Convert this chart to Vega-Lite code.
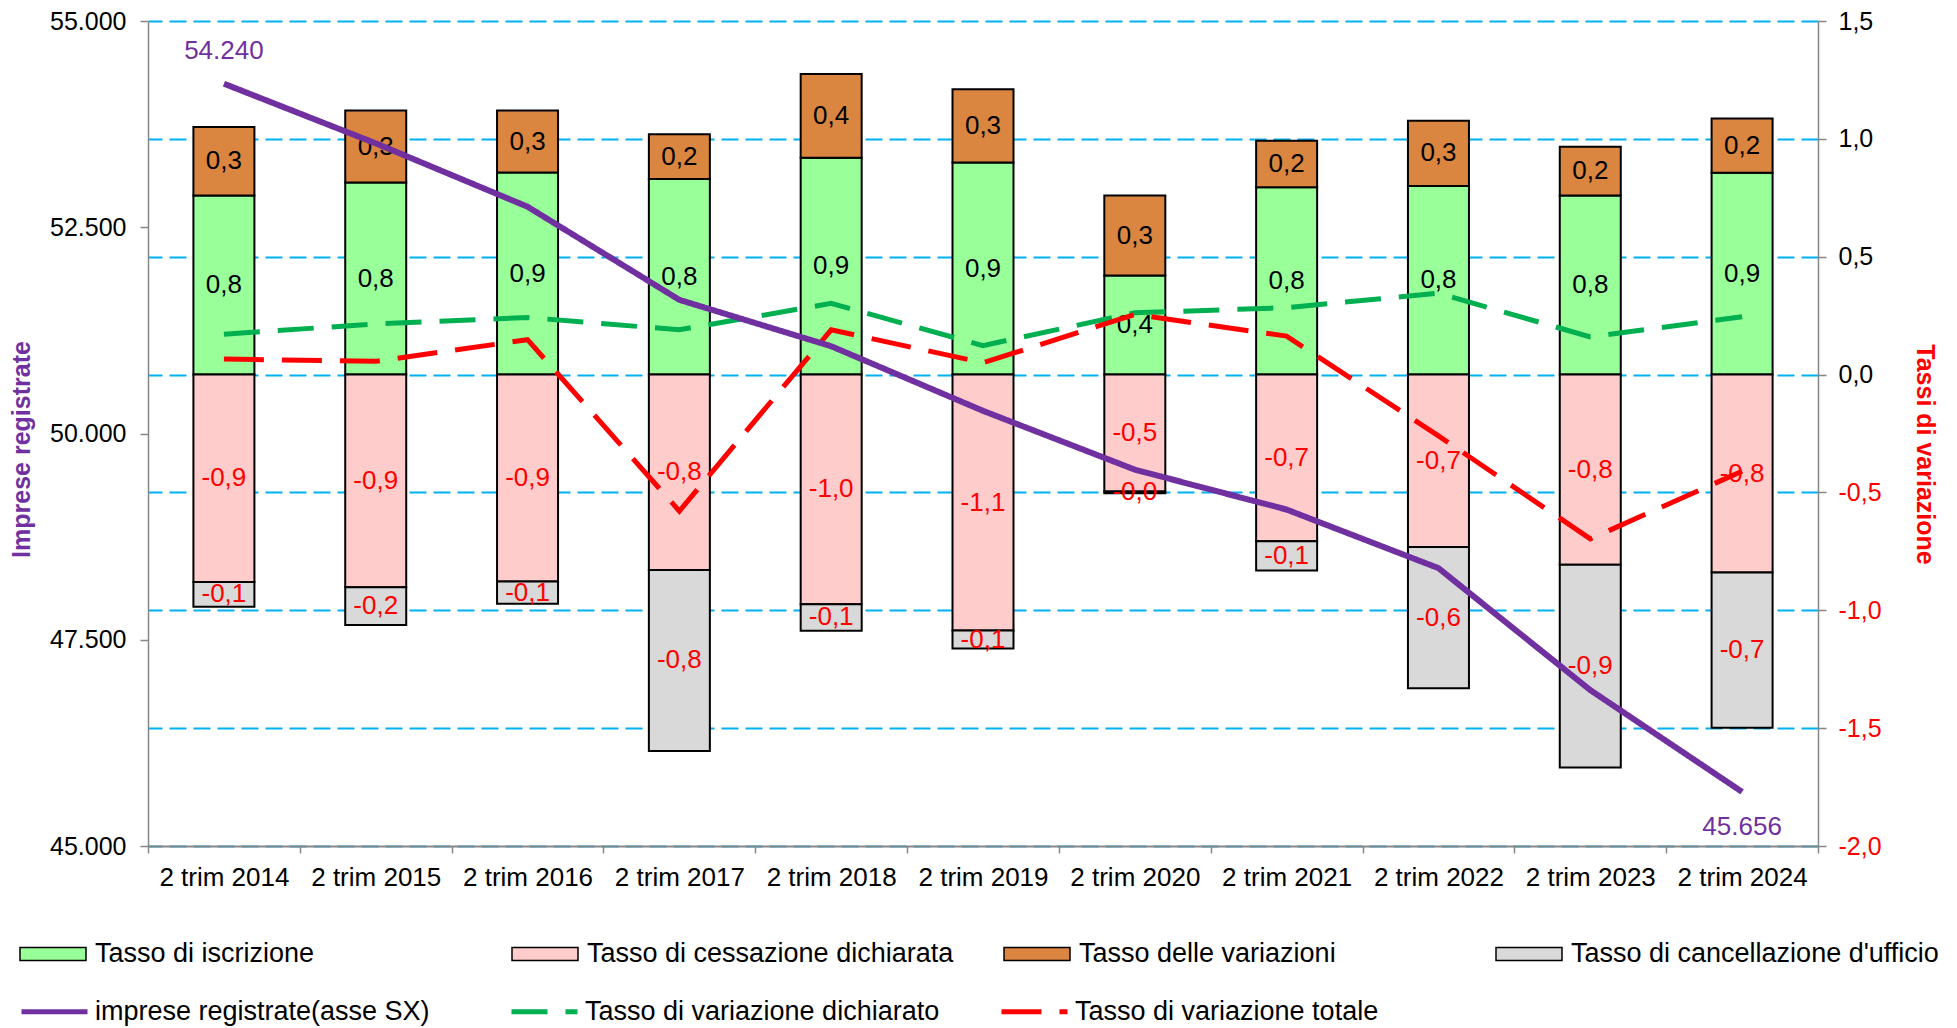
{
  "$schema": "https://vega.github.io/schema/vega-lite/v6.json",
  "autosize": {"type": "none"},
  "padding": {"left": 148, "top": 21, "right": 139, "bottom": 182},
  "width": 1670,
  "height": 825,
  "config": {
    "view": {"stroke": null},
    "font": "Liberation Sans",
    "locale": {"number": {"decimal": ",", "thousands": ".", "grouping": [3], "currency": ["€", ""], "minus": "-"}}
  },
  "datasets": {
    "barre": [
      {"anno": "2 trim 2014", "serie": "Tasso di iscrizione", "valore": 0.76, "etichetta": "0,8"},
      {"anno": "2 trim 2014", "serie": "Tasso delle variazioni", "valore": 0.29, "etichetta": "0,3"},
      {"anno": "2 trim 2014", "serie": "Tasso di cessazione dichiarata", "valore": -0.88, "etichetta": "-0,9"},
      {"anno": "2 trim 2014", "serie": "Tasso di cancellazione d'ufficio", "valore": -0.105, "etichetta": "-0,1"},
      {"anno": "2 trim 2015", "serie": "Tasso di iscrizione", "valore": 0.815, "etichetta": "0,8"},
      {"anno": "2 trim 2015", "serie": "Tasso delle variazioni", "valore": 0.305, "etichetta": "0,3"},
      {"anno": "2 trim 2015", "serie": "Tasso di cessazione dichiarata", "valore": -0.902, "etichetta": "-0,9"},
      {"anno": "2 trim 2015", "serie": "Tasso di cancellazione d'ufficio", "valore": -0.16, "etichetta": "-0,2"},
      {"anno": "2 trim 2016", "serie": "Tasso di iscrizione", "valore": 0.857, "etichetta": "0,9"},
      {"anno": "2 trim 2016", "serie": "Tasso delle variazioni", "valore": 0.263, "etichetta": "0,3"},
      {"anno": "2 trim 2016", "serie": "Tasso di cessazione dichiarata", "valore": -0.878, "etichetta": "-0,9"},
      {"anno": "2 trim 2016", "serie": "Tasso di cancellazione d'ufficio", "valore": -0.094, "etichetta": "-0,1"},
      {"anno": "2 trim 2017", "serie": "Tasso di iscrizione", "valore": 0.83, "etichetta": "0,8"},
      {"anno": "2 trim 2017", "serie": "Tasso delle variazioni", "valore": 0.19, "etichetta": "0,2"},
      {"anno": "2 trim 2017", "serie": "Tasso di cessazione dichiarata", "valore": -0.829, "etichetta": "-0,8"},
      {"anno": "2 trim 2017", "serie": "Tasso di cancellazione d'ufficio", "valore": -0.768, "etichetta": "-0,8"},
      {"anno": "2 trim 2018", "serie": "Tasso di iscrizione", "valore": 0.92, "etichetta": "0,9"},
      {"anno": "2 trim 2018", "serie": "Tasso delle variazioni", "valore": 0.355, "etichetta": "0,4"},
      {"anno": "2 trim 2018", "serie": "Tasso di cessazione dichiarata", "valore": -0.974, "etichetta": "-1,0"},
      {"anno": "2 trim 2018", "serie": "Tasso di cancellazione d'ufficio", "valore": -0.113, "etichetta": "-0,1"},
      {"anno": "2 trim 2019", "serie": "Tasso di iscrizione", "valore": 0.9, "etichetta": "0,9"},
      {"anno": "2 trim 2019", "serie": "Tasso delle variazioni", "valore": 0.31, "etichetta": "0,3"},
      {"anno": "2 trim 2019", "serie": "Tasso di cessazione dichiarata", "valore": -1.086, "etichetta": "-1,1"},
      {"anno": "2 trim 2019", "serie": "Tasso di cancellazione d'ufficio", "valore": -0.076, "etichetta": "-0,1"},
      {"anno": "2 trim 2020", "serie": "Tasso di iscrizione", "valore": 0.42, "etichetta": "0,4"},
      {"anno": "2 trim 2020", "serie": "Tasso delle variazioni", "valore": 0.34, "etichetta": "0,3"},
      {"anno": "2 trim 2020", "serie": "Tasso di cessazione dichiarata", "valore": -0.496, "etichetta": "-0,5"},
      {"anno": "2 trim 2020", "serie": "Tasso di cancellazione d'ufficio", "valore": -0.007, "etichetta": "-0,0"},
      {"anno": "2 trim 2021", "serie": "Tasso di iscrizione", "valore": 0.795, "etichetta": "0,8"},
      {"anno": "2 trim 2021", "serie": "Tasso delle variazioni", "valore": 0.197, "etichetta": "0,2"},
      {"anno": "2 trim 2021", "serie": "Tasso di cessazione dichiarata", "valore": -0.707, "etichetta": "-0,7"},
      {"anno": "2 trim 2021", "serie": "Tasso di cancellazione d'ufficio", "valore": -0.124, "etichetta": "-0,1"},
      {"anno": "2 trim 2022", "serie": "Tasso di iscrizione", "valore": 0.8, "etichetta": "0,8"},
      {"anno": "2 trim 2022", "serie": "Tasso delle variazioni", "valore": 0.277, "etichetta": "0,3"},
      {"anno": "2 trim 2022", "serie": "Tasso di cessazione dichiarata", "valore": -0.731, "etichetta": "-0,7"},
      {"anno": "2 trim 2022", "serie": "Tasso di cancellazione d'ufficio", "valore": -0.6, "etichetta": "-0,6"},
      {"anno": "2 trim 2023", "serie": "Tasso di iscrizione", "valore": 0.76, "etichetta": "0,8"},
      {"anno": "2 trim 2023", "serie": "Tasso delle variazioni", "valore": 0.207, "etichetta": "0,2"},
      {"anno": "2 trim 2023", "serie": "Tasso di cessazione dichiarata", "valore": -0.807, "etichetta": "-0,8"},
      {"anno": "2 trim 2023", "serie": "Tasso di cancellazione d'ufficio", "valore": -0.86, "etichetta": "-0,9"},
      {"anno": "2 trim 2024", "serie": "Tasso di iscrizione", "valore": 0.856, "etichetta": "0,9"},
      {"anno": "2 trim 2024", "serie": "Tasso delle variazioni", "valore": 0.23, "etichetta": "0,2"},
      {"anno": "2 trim 2024", "serie": "Tasso di cessazione dichiarata", "valore": -0.84, "etichetta": "-0,8"},
      {"anno": "2 trim 2024", "serie": "Tasso di cancellazione d'ufficio", "valore": -0.658, "etichetta": "-0,7"}
    ],
    "linee": [
      {"anno": "2 trim 2014", "serie": "imprese registrate(asse SX)", "valore": 54240},
      {"anno": "2 trim 2015", "serie": "imprese registrate(asse SX)", "valore": 53517},
      {"anno": "2 trim 2016", "serie": "imprese registrate(asse SX)", "valore": 52749},
      {"anno": "2 trim 2017", "serie": "imprese registrate(asse SX)", "valore": 51620},
      {"anno": "2 trim 2018", "serie": "imprese registrate(asse SX)", "valore": 51058},
      {"anno": "2 trim 2019", "serie": "imprese registrate(asse SX)", "valore": 50275},
      {"anno": "2 trim 2020", "serie": "imprese registrate(asse SX)", "valore": 49562},
      {"anno": "2 trim 2021", "serie": "imprese registrate(asse SX)", "valore": 49078},
      {"anno": "2 trim 2022", "serie": "imprese registrate(asse SX)", "valore": 48368},
      {"anno": "2 trim 2023", "serie": "imprese registrate(asse SX)", "valore": 46890},
      {"anno": "2 trim 2024", "serie": "imprese registrate(asse SX)", "valore": 45656},
      {"anno": "2 trim 2014", "serie": "Tasso di variazione dichiarato", "valore": 0.171},
      {"anno": "2 trim 2015", "serie": "Tasso di variazione dichiarato", "valore": 0.215},
      {"anno": "2 trim 2016", "serie": "Tasso di variazione dichiarato", "valore": 0.242},
      {"anno": "2 trim 2017", "serie": "Tasso di variazione dichiarato", "valore": 0.19},
      {"anno": "2 trim 2018", "serie": "Tasso di variazione dichiarato", "valore": 0.302},
      {"anno": "2 trim 2019", "serie": "Tasso di variazione dichiarato", "valore": 0.123},
      {"anno": "2 trim 2020", "serie": "Tasso di variazione dichiarato", "valore": 0.262},
      {"anno": "2 trim 2021", "serie": "Tasso di variazione dichiarato", "valore": 0.284},
      {"anno": "2 trim 2022", "serie": "Tasso di variazione dichiarato", "valore": 0.345},
      {"anno": "2 trim 2023", "serie": "Tasso di variazione dichiarato", "valore": 0.16},
      {"anno": "2 trim 2024", "serie": "Tasso di variazione dichiarato", "valore": 0.245},
      {"anno": "2 trim 2014", "serie": "Tasso di variazione totale", "valore": 0.066},
      {"anno": "2 trim 2015", "serie": "Tasso di variazione totale", "valore": 0.056},
      {"anno": "2 trim 2016", "serie": "Tasso di variazione totale", "valore": 0.148},
      {"anno": "2 trim 2017", "serie": "Tasso di variazione totale", "valore": -0.579},
      {"anno": "2 trim 2018", "serie": "Tasso di variazione totale", "valore": 0.19},
      {"anno": "2 trim 2019", "serie": "Tasso di variazione totale", "valore": 0.05},
      {"anno": "2 trim 2020", "serie": "Tasso di variazione totale", "valore": 0.255},
      {"anno": "2 trim 2021", "serie": "Tasso di variazione totale", "valore": 0.163},
      {"anno": "2 trim 2022", "serie": "Tasso di variazione totale", "valore": -0.26},
      {"anno": "2 trim 2023", "serie": "Tasso di variazione totale", "valore": -0.697},
      {"anno": "2 trim 2024", "serie": "Tasso di variazione totale", "valore": -0.41}
    ]
  },
  "layer": [
    {
      "layer": [
        {
          "data": {"name": "barre"},
          "mark": {"type": "bar", "width": 61, "stroke": "black", "strokeWidth": 2},
          "encoding": {
            "x": {
              "field": "anno", "type": "nominal", "sort": null,
              "scale": {"paddingInner": 0, "paddingOuter": 0},
              "axis": {
                "title": null, "labelFontSize": 26, "labelColor": "black", "labelAngle": 0,
                "labelPadding": 11, "tickSize": 7, "tickColor": "#868686", "tickWidth": 1.5,
                "tickBand": "extent", "domainColor": "#868686", "domainWidth": 2,
                "grid": false, "zindex": 1, "labelLimit": 220
              }
            },
            "y": {
              "field": "valore", "type": "quantitative", "stack": "zero",
              "scale": {"domain": [-2, 1.5], "nice": false, "zero": false},
              "axis": {
                "orient": "right", "title": "Tassi di variazione",
                "values": [-2, -1.5, -1, -0.5, 0, 0.5, 1, 1.5], "format": ".1f",
                "labelFontSize": 25,
                "labelColor": {"condition": {"test": "datum.value < 0", "value": "#FF0000"}, "value": "black"},
                "labelPadding": 12, "tickSize": 8, "tickColor": "#868686", "tickWidth": 1.5,
                "domainColor": "#868686", "domainWidth": 1.5,
                "grid": true, "gridColor": "#00B0F0", "gridDash": [17, 7], "gridWidth": 2,
                "titleColor": "#FF0000", "titleFontSize": 25, "titleFontWeight": "bold",
                "titleAngle": 90, "titleX": 98, "titleY": 433, "titleBaseline": "alphabetic", "titleAlign": "center"
              }
            },
            "color": {
              "field": "serie", "type": "nominal",
              "scale": {
                "domain": ["Tasso di iscrizione", "Tasso di cessazione dichiarata", "Tasso delle variazioni", "Tasso di cancellazione d'ufficio"],
                "range": ["#99FF99", "#FFCCCC", "#DA8540", "#D9D9D9"]
              },
              "legend": {
                "title": null, "orient": "none", "legendX": -129, "legendY": 899,
                "direction": "horizontal", "columns": 4, "gridAlign": "all", "columnPadding": 46,
                "symbolType": "M-1,-0.2H1V0.2H-1Z", "symbolSize": 4356,
                "symbolStrokeColor": "black", "symbolStrokeWidth": 1.5,
                "labelFontSize": 27, "labelOffset": 8, "labelLimit": 600, "labelColor": "black", "padding": 0
              }
            },
            "order": {"field": "serie", "sort": "descending"}
          }
        },
        {
          "data": {"name": "barre"},
          "mark": {"type": "text", "fontSize": 26, "baseline": "middle"},
          "encoding": {
            "x": {"field": "anno", "type": "nominal", "sort": null},
            "y": {"field": "valore", "type": "quantitative", "stack": "zero", "bandPosition": 0.5},
            "detail": {"field": "serie"},
            "order": {"field": "serie", "sort": "descending"},
            "text": {"field": "etichetta"},
            "color": {"condition": {"test": "datum.valore < 0", "value": "#FF0000"}, "value": "black"}
          }
        },
        {
          "data": {"name": "linee"},
          "transform": [{"filter": "datum.serie != 'imprese registrate(asse SX)'"}],
          "mark": {"type": "line", "strokeWidth": 5},
          "encoding": {
            "x": {"field": "anno", "type": "nominal", "sort": null},
            "y": {"field": "valore", "type": "quantitative"},
            "stroke": {
              "field": "serie", "type": "nominal",
              "scale": {"domain": ["imprese registrate(asse SX)", "Tasso di variazione dichiarato", "Tasso di variazione totale"], "range": ["#7030A0", "#00B050", "#FF0000"]},
              "legend": {
                "title": null, "orient": "none", "legendX": -129, "legendY": 955,
                "direction": "horizontal", "columns": 4, "gridAlign": "all", "columnPadding": 51,
                "symbolType": "stroke", "symbolSize": 4356, "symbolStrokeWidth": 5,
                "labelFontSize": 27, "labelOffset": 5, "labelLimit": 600, "labelColor": "black", "padding": 0
              }
            },
            "strokeDash": {
              "field": "serie", "type": "nominal",
              "scale": {"domain": ["imprese registrate(asse SX)", "Tasso di variazione dichiarato", "Tasso di variazione totale"], "range": [[1, 0], [36, 18], [40, 18]]},
              "legend": {
                "title": null, "orient": "none", "legendX": -129, "legendY": 955,
                "direction": "horizontal", "columns": 4, "gridAlign": "all", "columnPadding": 51,
                "symbolType": "stroke", "symbolSize": 4356, "symbolStrokeWidth": 5,
                "labelFontSize": 27, "labelOffset": 5, "labelLimit": 600, "labelColor": "black", "padding": 0
              }
            }
          }
        }
      ]
    },
    {
      "data": {"name": "linee"},
      "transform": [{"filter": "datum.serie == 'imprese registrate(asse SX)'"}],
      "layer": [
        {
          "mark": {"type": "line", "strokeWidth": 6},
          "encoding": {
            "x": {"field": "anno", "type": "nominal", "sort": null},
            "y": {
              "field": "valore", "type": "quantitative",
              "scale": {"domain": [45000, 55000], "nice": false, "zero": false},
              "axis": {
                "orient": "left", "title": "Imprese registrate",
                "values": [45000, 47500, 50000, 52500, 55000], "format": ",d",
                "labelFontSize": 25, "labelColor": "black", "labelPadding": 14,
                "tickSize": 8, "tickColor": "#868686", "tickWidth": 1.5,
                "domainColor": "#868686", "domainWidth": 1.5, "grid": false,
                "titleColor": "#7030A0", "titleFontSize": 25, "titleFontWeight": "bold",
                "titleAngle": 270, "titleX": -119, "titleY": 428, "titleBaseline": "alphabetic", "titleAlign": "center"
              }
            },
            "stroke": {
              "field": "serie", "type": "nominal",
              "legend": {
                "title": null, "orient": "none", "legendX": -129, "legendY": 955,
                "direction": "horizontal", "columns": 4, "gridAlign": "all", "columnPadding": 51,
                "symbolType": "stroke", "symbolSize": 4356, "symbolStrokeWidth": 5,
                "labelFontSize": 27, "labelOffset": 5, "labelLimit": 600, "labelColor": "black", "padding": 0
              }
            },
            "strokeDash": {
              "field": "serie", "type": "nominal",
              "legend": {
                "title": null, "orient": "none", "legendX": -129, "legendY": 955,
                "direction": "horizontal", "columns": 4, "gridAlign": "all", "columnPadding": 51,
                "symbolType": "stroke", "symbolSize": 4356, "symbolStrokeWidth": 5,
                "labelFontSize": 27, "labelOffset": 5, "labelLimit": 600, "labelColor": "black", "padding": 0
              }
            }
          }
        },
        {
          "transform": [{"filter": "datum.anno == '2 trim 2014'"}],
          "mark": {"type": "text", "fontSize": 26, "color": "#7030A0", "dy": -33, "baseline": "middle"},
          "encoding": {
            "x": {"field": "anno", "type": "nominal", "sort": null},
            "y": {"field": "valore", "type": "quantitative"},
            "text": {"field": "valore", "format": ",d"}
          }
        },
        {
          "transform": [{"filter": "datum.anno == '2 trim 2024'"}],
          "mark": {"type": "text", "fontSize": 26, "color": "#7030A0", "dy": 35, "baseline": "middle"},
          "encoding": {
            "x": {"field": "anno", "type": "nominal", "sort": null},
            "y": {"field": "valore", "type": "quantitative"},
            "text": {"field": "valore", "format": ",d"}
          }
        }
      ]
    }
  ],
  "resolve": {"scale": {"y": "independent"}}
}
